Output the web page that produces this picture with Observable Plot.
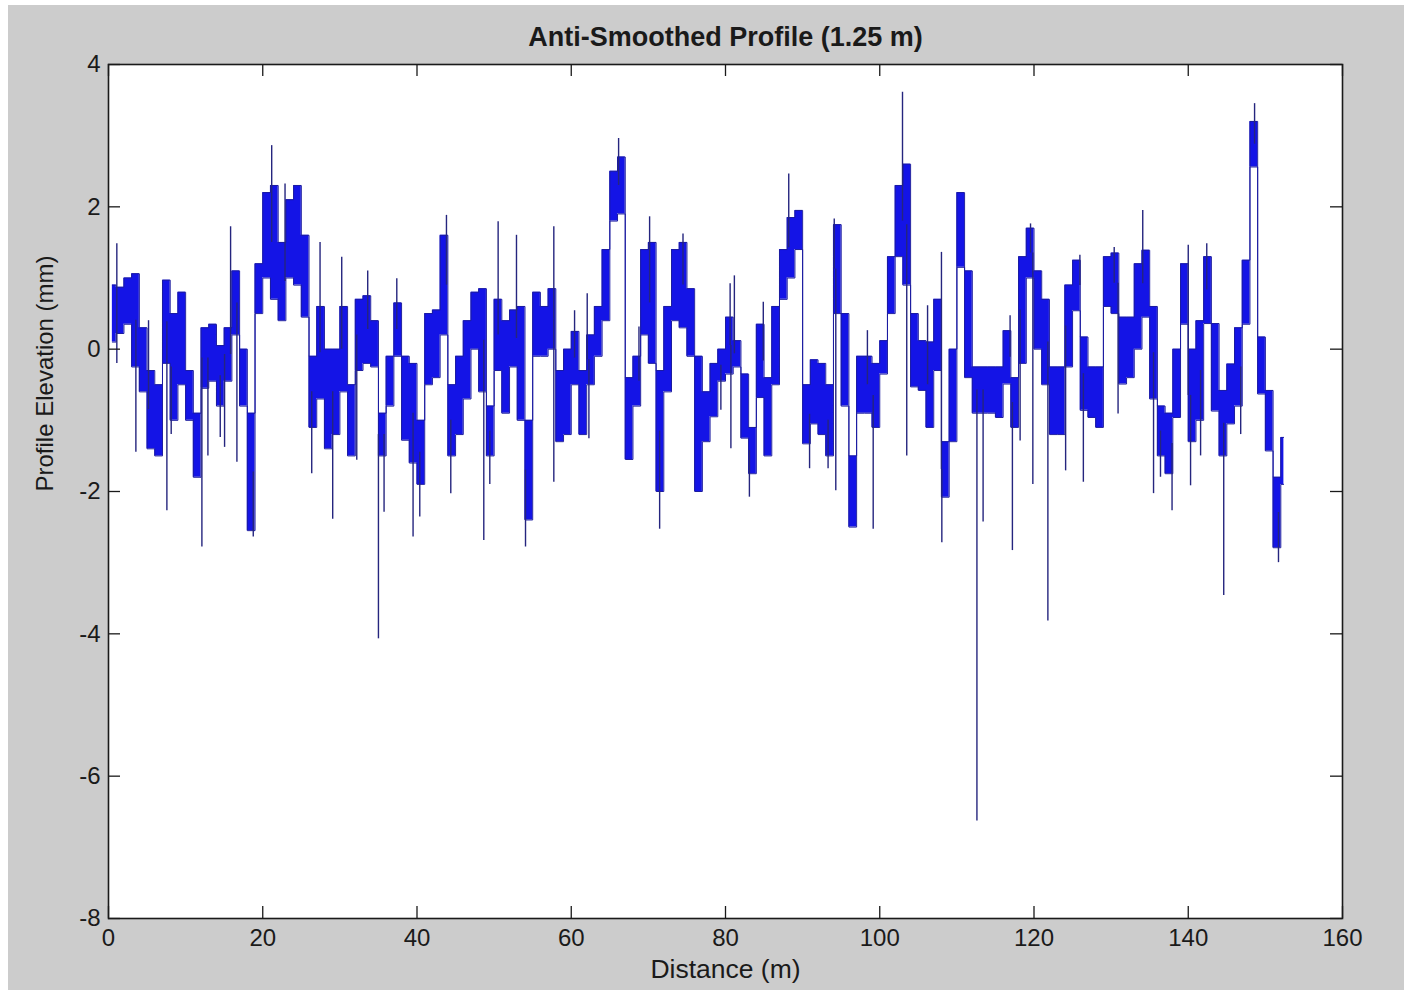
<!DOCTYPE html>
<html><head><meta charset="utf-8">
<script src="https://cdn.jsdelivr.net/npm/d3@7"></script>
<script src="https://cdn.jsdelivr.net/npm/@observablehq/plot@0.6"></script>
<style>
html,body{margin:0;padding:0;background:#fff;}
#fig{position:absolute;left:8px;top:5px;width:1396px;height:985px;background:#cccccc;}
#fig svg{display:block;}
</style></head><body><div id="fig"></div>
<script>
// Upper / lower envelope of the dense profile, one value per 1 m bin starting at 0 m (mm)
const upper = [0.9,0.87,1.0,1.06,0.3,-0.3,-0.5,0.97,0.5,0.8,
  -0.3,-0.9,0.3,0.35,0.05,0.3,1.1,0.0,-0.9,1.2,
  2.2,2.3,1.5,2.1,2.3,1.6,-0.1,0.6,0.0,0.0,
  0.6,-0.5,0.7,0.75,0.4,-0.9,-0.1,0.65,-0.1,-0.2,
  -1.0,0.5,0.55,1.6,-0.5,-0.1,0.4,0.8,0.85,-0.8,
  0.7,0.4,0.55,0.6,-1.0,0.8,0.6,0.85,-0.3,0.0,
  0.25,-0.3,0.2,0.6,1.4,2.5,2.7,-0.4,-0.1,1.4,
  1.5,-0.3,0.6,1.4,1.5,0.85,-0.1,-0.6,-0.2,0.0,
  0.45,0.12,-0.35,-1.1,0.35,-0.4,0.6,1.4,1.85,1.95,
  -0.5,-0.15,-0.2,-0.5,1.75,0.5,-1.5,-0.1,-0.1,-0.2,
  0.12,1.3,2.3,2.6,0.5,0.12,0.1,0.7,-1.3,0.0,
  2.2,1.1,-0.25,-0.25,-0.25,-0.25,0.26,-0.4,1.3,1.7,
  1.1,0.7,-0.25,-0.25,0.9,1.25,0.17,-0.25,-0.25,1.3,
  1.35,0.45,0.45,1.2,1.39,0.6,-0.8,-0.9,0.0,1.2,
  0.0,0.4,1.3,0.36,-0.58,-0.21,0.3,1.25,3.2,0.17,
  -0.58,-1.8,-1.24];
const lower = [0.1,0.22,0.35,-0.25,-0.6,-1.4,-1.5,-0.2,-1.0,-0.5,
  -1.0,-1.8,-0.55,-0.45,-0.8,-0.45,0.2,-0.8,-2.55,0.5,
  1.0,0.7,0.4,1.0,0.9,0.45,-1.1,-0.7,-1.4,-1.2,
  -0.6,-1.5,-0.3,-0.2,-0.25,-1.5,-0.8,-0.1,-1.28,-1.6,
  -1.9,-0.5,-0.4,0.2,-1.5,-1.2,-0.7,0.0,-0.6,-1.5,
  -0.3,-0.9,-0.25,-1.0,-2.4,-0.1,-0.1,0.0,-1.3,-1.2,
  -0.5,-1.2,-0.5,-0.1,0.4,1.8,1.9,-1.55,-0.8,0.2,
  -0.2,-2.0,-0.6,0.4,0.3,-0.1,-2.0,-1.3,-0.95,-0.45,
  -0.35,-0.25,-1.25,-1.75,-0.68,-1.5,-0.5,0.7,1.0,1.4,
  -1.33,-1.05,-1.2,-1.5,0.5,-0.8,-2.5,-0.9,-0.9,-1.1,
  -0.35,0.5,1.3,0.9,-0.53,-0.58,-1.1,-0.3,-2.08,-1.3,
  1.15,-0.4,-0.9,-0.9,-0.9,-0.96,-0.49,-1.1,-0.2,1.0,
  0.0,-0.5,-1.2,-1.2,-0.25,0.54,-0.86,-0.96,-1.1,0.6,
  0.5,-0.49,-0.4,0.0,0.45,-0.7,-1.5,-1.75,-0.96,0.35,
  -1.3,-1.0,0.36,-0.87,-1.5,-1.05,-0.8,0.35,2.56,-0.63,
  -1.43,-2.79,-1.9];
// Isolated needles (distance in m, tip elevation in mm)
const spikeDist = [1.08,5.19,15.83,21.16,22.89,27.43,30.24,33.61,37.38,43.82,
  50.52,52.9,57.74,60.43,62.07,66.14,68.78,70.16,74.49,80.6,
  81.15,84.9,88.2,94.1,98.4,102.95,106.2,108.0,116.9,119.55,
  125.95,130.4,134.1,140.0,142.4,148.6,
  1.08,3.55,7.57,8.13,12.11,12.89,14.49,15.05,16.65,18.77,
  26.35,29.07,32.19,35.0,35.73,39.49,40.36,44.38,48.66,49.44,
  54.07,57.74,62.29,71.46,79.4,80.7,83.1,90.9,93.3,94.3,
  99.15,103.5,108.05,112.6,113.4,117.2,118.2,119.85,121.8,124.1,
  126.4,130.9,135.5,136.4,137.9,140.3,141.6,144.6,146.8,151.7];
const spikeTip = [1.48,0.4,1.72,2.86,2.32,1.5,1.29,1.1,0.99,1.88,
  1.79,1.6,1.72,0.54,0.78,2.96,0.31,1.86,1.62,0.92,
  1.03,0.66,2.46,1.83,0.26,3.61,0.61,1.36,0.47,1.76,
  1.32,1.43,1.95,1.46,1.48,3.45,
  -0.2,-1.45,-2.27,-1.2,-2.78,-1.5,-1.24,-1.38,-1.59,-2.64,
  -1.75,-2.39,-1.56,-4.07,-2.29,-2.64,-2.36,-2.03,-2.69,-1.9,
  -2.78,-1.87,-1.26,-2.53,-0.86,-1.4,-2.08,-1.68,-1.68,-1.99,
  -2.53,-1.5,-2.72,-6.63,-2.43,-2.83,-1.29,-1.9,-3.82,-1.71,
  -1.87,-0.91,-2.03,-1.8,-2.27,-1.92,-1.5,-3.46,-1.2,-3.0];
const xTicks = [0,20,40,60,80,100,120,140,160];
const yTicks = [-8,-6,-4,-2,0,2,4];
const titleText = "Anti-Smoothed Profile (1.25 m)";
const xLabelText = "Distance (m)";
const yLabelText = "Profile Elevation (mm)";
const startDist = 0.5, binWidth = 1, endDist = 152.4;

const profile = upper.map((hi, i) => ({d: i === 0 ? startDist : i * binWidth, hi, lo: lower[i]}));
profile.push({d: endDist, hi: upper[upper.length - 1], lo: lower[lower.length - 1]});
const spikes = spikeDist.map((d, i) => {
  const k = Math.min(Math.floor(d / binWidth), upper.length - 1);
  return {d, tip: spikeTip[i], base: (upper[k] + lower[k]) / 2};
});

const font = "Arial, 'Liberation Sans', Helvetica, sans-serif";
const ink = "#1a1a1a";
const fmt = d => String(d);
const chart = Plot.plot({
  width: 1396, height: 985,
  marginLeft: 100, marginRight: 62, marginTop: 59, marginBottom: 72,
  style: {background: "transparent", fontFamily: font, color: ink},
  x: {domain: [0, 160]},
  y: {domain: [-8, 4]},
  marks: [
    Plot.frame({fill: "white", stroke: null}),
    Plot.areaY(profile, {x: "d", y1: "lo", y2: "hi", curve: "step-after", fill: "#1414e6"}),
    Plot.lineY(profile, {x: "d", y: "hi", curve: "step-after", stroke: "#1c1ca0", strokeWidth: 1}),
    Plot.lineY(profile, {x: "d", y: "lo", curve: "step-after", stroke: "#1c1ca0", strokeWidth: 1}),
    Plot.ruleX(spikes, {x: "d", y1: "base", y2: "tip", stroke: "#25257e", strokeWidth: 1.4}),
    Plot.ruleX(xTicks, {x: d => d, y1: -8, y2: -8, insetBottom: 12, stroke: ink, strokeWidth: 1.3}),
    Plot.ruleX(xTicks, {x: d => d, y1: 4, y2: 4, insetTop: 12, stroke: ink, strokeWidth: 1.3}),
    Plot.ruleY(yTicks, {y: d => d, x1: 0, x2: 0, insetRight: -12, stroke: ink, strokeWidth: 1.3}),
    Plot.ruleY(yTicks, {y: d => d, x1: 160, x2: 160, insetLeft: -12, stroke: ink, strokeWidth: 1.3}),
    Plot.frame({stroke: ink, strokeWidth: 1.6}),
    Plot.axisX(xTicks, {tickSize: 0, tickPadding: 10, fontSize: 24, label: null, fill: ink, tickFormat: fmt}),
    Plot.axisY(yTicks, {tickSize: 0, tickPadding: 8, fontSize: 24, label: null, fill: ink, tickFormat: fmt}),
    Plot.text([titleText], {frameAnchor: "top", lineAnchor: "middle", dy: -27, text: d => d, fontSize: 27, fontWeight: "bold", fill: ink}),
    Plot.text([xLabelText], {frameAnchor: "bottom", lineAnchor: "middle", dy: 51, text: d => d, fontSize: 26.5, fill: ink}),
    Plot.text([yLabelText], {frameAnchor: "left", lineAnchor: "middle", dx: -63, rotate: -90, text: d => d, fontSize: 24, fill: ink})
  ]
});
document.getElementById("fig").appendChild(chart);
</script>
</body></html>
